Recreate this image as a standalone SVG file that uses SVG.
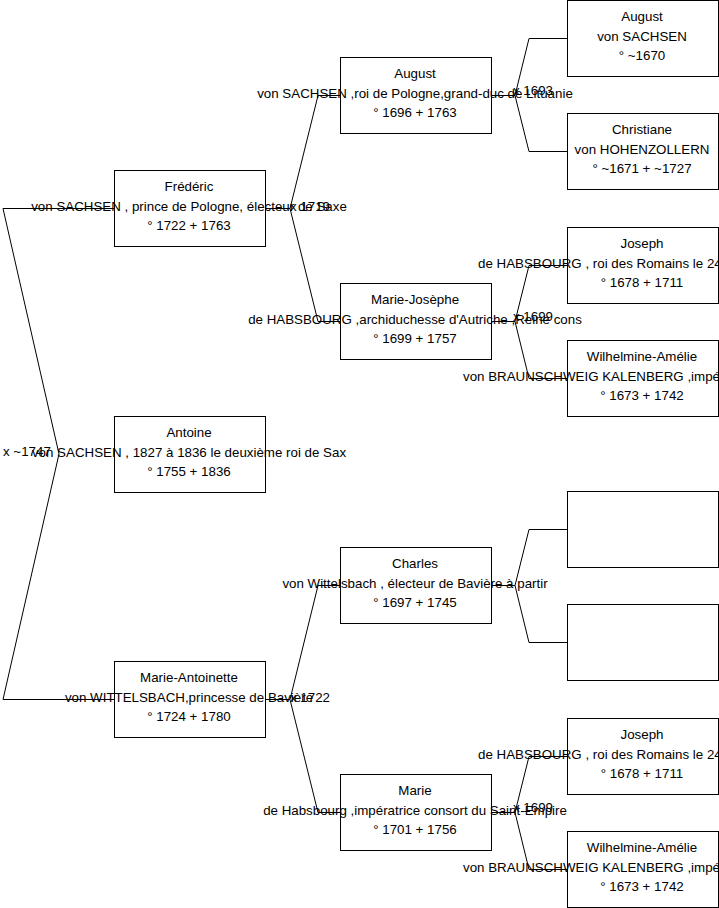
<svg xmlns="http://www.w3.org/2000/svg" width="719" height="908" viewBox="0 0 719 908">
<style>
.box{fill:#fff;stroke:#000;stroke-width:1}
.c{fill:none;stroke:#000;stroke-width:1}
text{font-family:"Liberation Sans",Arial,sans-serif;font-size:13.33px;fill:#000}
.m{text-anchor:middle}
</style>
<rect width="719" height="908" fill="#fff"/>
<g id="connectors">
<polyline class="c" points="114,208.5 3,208.5 59,454 3,699.5 114,699.5"/>
<polyline class="c" points="265,208.5 290,208.5"/>
<polyline class="c" points="340,95.5 318,95.5 290,208.5 318,321.5 340,321.5"/>
<polyline class="c" points="265,699.5 290,699.5"/>
<polyline class="c" points="340,585.5 318,585.5 290,699.5 318,812.5 340,812.5"/>
<polyline class="c" points="491,95.5 515,95.5"/>
<polyline class="c" points="567,38.5 529,38.5 515,95.5 529,151.5 567,151.5"/>
<polyline class="c" points="491,321.5 515,321.5"/>
<polyline class="c" points="567,265.5 529,265.5 515,321.5 529,378.5 567,378.5"/>
<polyline class="c" points="491,585.5 515,585.5"/>
<polyline class="c" points="567,529.5 529,529.5 515,585.5 529,642.5 567,642.5"/>
<polyline class="c" points="491,812.5 515,812.5"/>
<polyline class="c" points="567,756.5 529,756.5 515,812.5 529,869.5 567,869.5"/>
<text x="3" y="456">x ~1747</text>
<text x="290" y="210.5">x 1719</text>
<text x="290" y="701.5">x 1722</text>
<text x="513" y="95">x 1693</text>
<text x="513" y="321">x 1699</text>
<text x="513" y="812">x 1699</text>
</g>
<g id="frederic">
<rect class="box" x="114.5" y="170.5" width="151" height="76"/>
<text class="m" x="189" y="191">Frédéric</text>
<text class="m" x="189" y="210.5">von SACHSEN , prince de Pologne, électeur de Saxe</text>
<text class="m" x="189" y="230">° 1722 + 1763</text>
</g>
<g id="antoine">
<rect class="box" x="114.5" y="416.5" width="151" height="76"/>
<text class="m" x="189" y="437">Antoine</text>
<text class="m" x="189" y="456.5">von SACHSEN , 1827 à 1836 le deuxième roi de Sax</text>
<text class="m" x="189" y="476">° 1755 + 1836</text>
</g>
<g id="marie-antoinette">
<rect class="box" x="114.5" y="661.5" width="151" height="76"/>
<text class="m" x="189" y="682">Marie-Antoinette</text>
<text class="m" x="189" y="701.5">von WITTELSBACH,princesse de Bavière</text>
<text class="m" x="189" y="721">° 1724 + 1780</text>
</g>
<g id="august2">
<rect class="box" x="340.5" y="57.5" width="151" height="76"/>
<text class="m" x="415" y="78">August</text>
<text class="m" x="415" y="97.5">von SACHSEN ,roi de Pologne,grand-duc de Lituanie</text>
<text class="m" x="415" y="117">° 1696 + 1763</text>
</g>
<g id="marie-josephe">
<rect class="box" x="340.5" y="283.5" width="151" height="76"/>
<text class="m" x="415" y="304">Marie-Josèphe</text>
<text class="m" x="415" y="323.5">de HABSBOURG ,archiduchesse d'Autriche ,Reine cons</text>
<text class="m" x="415" y="343">° 1699 + 1757</text>
</g>
<g id="charles">
<rect class="box" x="340.5" y="547.5" width="151" height="76"/>
<text class="m" x="415" y="568">Charles</text>
<text class="m" x="415" y="587.5">von Wittelsbach , électeur de Bavière à partir</text>
<text class="m" x="415" y="607">° 1697 + 1745</text>
</g>
<g id="marie">
<rect class="box" x="340.5" y="774.5" width="151" height="76"/>
<text class="m" x="415" y="795">Marie</text>
<text class="m" x="415" y="814.5">de Habsbourg ,impératrice consort du Saint-Empire</text>
<text class="m" x="415" y="834">° 1701 + 1756</text>
</g>
<g id="august3">
<rect class="box" x="567.5" y="0.5" width="151" height="76"/>
<text class="m" x="642" y="21">August</text>
<text class="m" x="642" y="40.5">von SACHSEN</text>
<text class="m" x="642" y="60">° ~1670</text>
</g>
<g id="christiane">
<rect class="box" x="567.5" y="113.5" width="151" height="76"/>
<text class="m" x="642" y="134">Christiane</text>
<text class="m" x="642" y="153.5">von HOHENZOLLERN</text>
<text class="m" x="642" y="173">° ~1671 + ~1727</text>
</g>
<g id="joseph1">
<rect class="box" x="567.5" y="227.5" width="151" height="76"/>
<text class="m" x="642" y="248">Joseph</text>
<text x="478" y="267.5">de HABSBOURG , roi des Romains le 24</text>
<text class="m" x="642" y="287">° 1678 + 1711</text>
</g>
<g id="wilhelmine1">
<rect class="box" x="567.5" y="340.5" width="151" height="76"/>
<text class="m" x="642" y="361">Wilhelmine-Amélie</text>
<text x="463" y="380.5">von BRAUNSCHWEIG KALENBERG ,impé</text>
<text class="m" x="642" y="400">° 1673 + 1742</text>
</g>
<g id="empty1">
<rect class="box" x="567.5" y="491.5" width="151" height="76"/>
</g>
<g id="empty2">
<rect class="box" x="567.5" y="604.5" width="151" height="76"/>
</g>
<g id="joseph2">
<rect class="box" x="567.5" y="718.5" width="151" height="76"/>
<text class="m" x="642" y="739">Joseph</text>
<text x="478" y="758.5">de HABSBOURG , roi des Romains le 24</text>
<text class="m" x="642" y="778">° 1678 + 1711</text>
</g>
<g id="wilhelmine2">
<rect class="box" x="567.5" y="831.5" width="151" height="76"/>
<text class="m" x="642" y="852">Wilhelmine-Amélie</text>
<text x="463" y="871.5">von BRAUNSCHWEIG KALENBERG ,impé</text>
<text class="m" x="642" y="891">° 1673 + 1742</text>
</g>
</svg>
